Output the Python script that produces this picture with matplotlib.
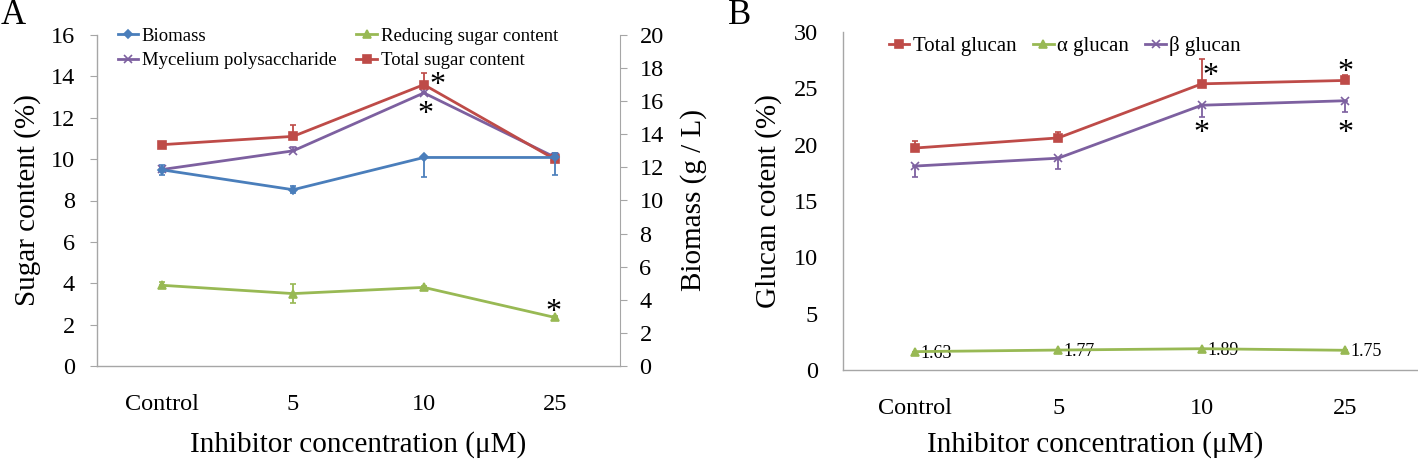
import matplotlib
matplotlib.use("Agg")
import matplotlib.pyplot as plt
from matplotlib.lines import Line2D

plt.rcParams['font.family'] = ['Liberation Serif', 'DejaVu Serif']

# ---------------- data ----------------
categories = ["Control", "5", "10", "25"]

# Panel A (sugar content %, biomass g/L on right axis)
biomass = [11.85, 10.65, 12.6, 12.6]
biomass_err_lo = [0.3, 0.2, 1.2, 1.05]
biomass_err_hi = [0.3, 0.2, 0.0, 0.25]
reducing = [3.9, 3.5, 3.8, 2.35]
reducing_err_lo = [0.0, 0.45, 0.0, 0.0]
reducing_err_hi = [0.15, 0.45, 0.05, 0.05]
mycelium = [9.5, 10.4, 13.2, 10.1]
mycelium_err_lo = [0.0, 0.0, 0.0, 0.0]
mycelium_err_hi = [0.05, 0.2, 0.3, 0.2]
total_sugar = [10.7, 11.1, 13.6, 10.0]
total_sugar_err_lo = [0.0, 0.0, 0.0, 0.0]
total_sugar_err_hi = [0.05, 0.55, 0.55, 0.1]
stars_A = [(2.1, 13.9), (2.01, 12.5), (2.99, 2.95)]

# Panel B (glucan content %)
total_glucan = [19.7, 20.6, 25.4, 25.7]
total_glucan_err_hi = [0.6, 0.5, 2.2, 0.5]
alpha_glucan = [1.63, 1.77, 1.89, 1.75]
alpha_labels = ["1.63", "1.77", "1.89", "1.75"]
beta_glucan = [18.1, 18.8, 23.5, 23.9]
beta_glucan_err_lo = [1.0, 1.0, 1.0, 1.0]
stars_B = [(2.06, 26.7), (3.0, 27.0), (2.0, 21.6), (3.0, 21.65)]

# ---------------- style ----------------
BLUE = "#4A7EBB"
RED = "#BE4B48"
GREEN = "#98B954"
PURPLE = "#7D60A0"
AXC = "#A6A6A6"
TICK_FS = 17.5
LAB_FS = 21
STAR_FS = 23

W, H = 1418, 463
fig = plt.figure(figsize=(W / 100, H / 100), dpi=100)

x = list(range(len(categories)))


def style_axes(ax):
    for s in ["top", "right"]:
        ax.spines[s].set_visible(False)
    for s in ["left", "bottom"]:
        ax.spines[s].set_color(AXC)
        ax.spines[s].set_linewidth(1.0)
    ax.set_xlim(-0.5, 3.5)
    ax.set_xticks(x)
    ax.set_xticklabels(categories)
    ax.tick_params(axis="x", length=0, pad=20, labelsize=TICK_FS)


def series(ax, y, lo, hi, color, marker, ms, label):
    ax.errorbar(x, y, yerr=[lo, hi], color=color, lw=2.0, marker=marker,
                ms=ms, mfc=color, mec=color, mew=1.2, ecolor=color,
                elinewidth=1.3, capsize=2.5, capthick=1.3, label=label,
                zorder=3)
    return Line2D([], [], color=color, lw=2.0, marker=marker, ms=ms,
                  mfc=color, mec=color, mew=1.2)


def star(ax, sx, sy):
    # the asterisk glyph sits ~0.46 em above the baseline: centre the glyph itself
    ax.annotate("*", (sx, sy), xytext=(0, -0.46 * STAR_FS),
                textcoords="offset points", fontsize=STAR_FS,
                ha="center", va="baseline", color="black")


# ---------------- Panel A ----------------
axA = fig.add_axes([97 / W, 1 - 366 / H, (620 - 97) / W, (366 - 35) / H])
style_axes(axA)
axA.set_ylim(0, 16)
axA.set_yticks(range(0, 17, 2))
axA.tick_params(axis="y", length=5, color=AXC, pad=11, labelsize=TICK_FS)
axA.set_ylabel("Sugar content (%)", fontsize=LAB_FS, labelpad=7)
axA.set_xlabel("Inhibitor concentration (μM)", fontsize=LAB_FS, labelpad=12)

axA2 = axA.twinx()
axA2.set_ylim(0, 20)
axA2.set_yticks(range(0, 21, 2))
for s in ["top", "left", "bottom"]:
    axA2.spines[s].set_visible(False)
axA2.spines["right"].set_color(AXC)
axA2.tick_params(axis="y", length=5, color=AXC, pad=9, labelsize=TICK_FS)
axA2.set_ylabel("Biomass (g / L)", fontsize=LAB_FS, labelpad=12)

hB = series(axA2, biomass, biomass_err_lo, biomass_err_hi, BLUE, "D", 4, "Biomass")
hR = series(axA, reducing, reducing_err_lo, reducing_err_hi, GREEN, "^", 6, "Reducing sugar content")
hM = series(axA, mycelium, mycelium_err_lo, mycelium_err_hi, PURPLE, "x", 6, "Mycelium polysaccharide")
hT = series(axA, total_sugar, total_sugar_err_lo, total_sugar_err_hi, RED, "s", 6, "Total sugar content")

for sx, sy in stars_A:
    star(axA, sx, sy)

axA.legend([hB, hM, hR, hT],
           ["Biomass", "Mycelium polysaccharide", "Reducing sugar content", "Total sugar content"],
           ncol=2, loc="upper left", bbox_to_anchor=(0.025, 1.045),
           frameon=False, fontsize=13.5, handlelength=1.1,
           handletextpad=0.2, columnspacing=1.05, labelspacing=0.4,
           borderaxespad=0)

fig.text(13 / W, 1 - 16 / H, "A", fontsize=25, ha="center", va="center")

# ---------------- Panel B ----------------
axB = fig.add_axes([843 / W, 1 - 370 / H, (1417 - 843) / W, (370 - 32) / H])
style_axes(axB)
axB.set_ylim(0, 30)
axB.set_yticks(range(0, 31, 5))
axB.tick_params(axis="y", length=0, pad=18, labelsize=TICK_FS)
axB.set_ylabel("Glucan cotent (%)", fontsize=LAB_FS, labelpad=8)
axB.set_xlabel("Inhibitor concentration (μM)", fontsize=LAB_FS, labelpad=12)
axB.xaxis.set_label_coords(0.44, -0.18)

zeros = [0] * len(categories)
h1 = series(axB, total_glucan, zeros, total_glucan_err_hi, RED, "s", 6, "Total glucan")
h2 = series(axB, alpha_glucan, zeros, zeros, GREEN, "^", 6, "α glucan")
h3 = series(axB, beta_glucan, beta_glucan_err_lo, zeros, PURPLE, "x", 6, "β glucan")

for xi, yi, lab in zip(x, alpha_glucan, alpha_labels):
    axB.annotate(lab, (xi, yi), xytext=(4, -1), textcoords="offset points",
                 ha="left", va="center", fontsize=13)

for sx, sy in stars_B:
    star(axB, sx, sy)

axB.legend([h1, h2, h3], ["Total glucan", "α glucan", "β glucan"], ncol=3,
           loc="upper left", bbox_to_anchor=(0.065, 1.012), frameon=False,
           fontsize=15, handlelength=1.0, handletextpad=0.15,
           columnspacing=0.8, borderaxespad=0)

fig.text(740 / W, 1 - 15 / H, "B", fontsize=25, ha="center", va="center")

fig.savefig("out.png", dpi=100)
